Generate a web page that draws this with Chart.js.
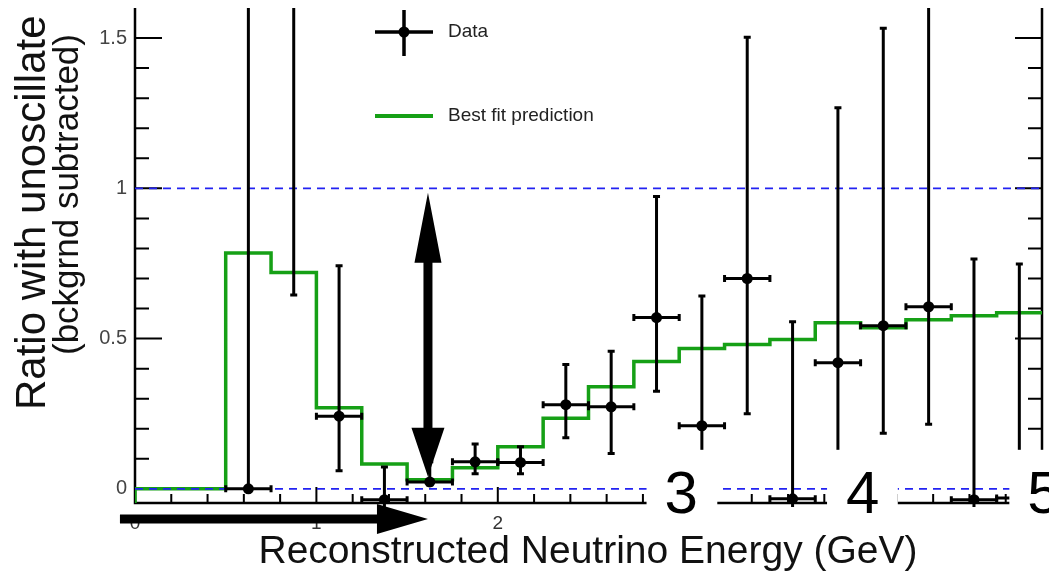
<!DOCTYPE html>
<html>
<head>
<meta charset="utf-8">
<script src="https://cdn.jsdelivr.net/npm/chart.js@4.4.0/dist/chart.umd.min.js"></script>
<style>
  html, body { margin: 0; padding: 0; background: #fff; }
  canvas { display: block; }
</style>
</head>
<body>
<canvas id="chart" width="1049" height="572"></canvas>
<script>
// histogram bin edges (GeV) and best fit prediction per bin
const binEdges = [0, 0.25, 0.5, 0.75, 1, 1.25, 1.5, 1.75, 2, 2.25, 2.5, 2.75, 3, 3.25, 3.5, 3.75, 4, 4.25, 4.5, 4.75, 5];
const bestFit = [0, 0, 0.785, 0.72, 0.27, 0.083, 0.03, 0.07, 0.14, 0.235, 0.34, 0.424, 0.467, 0.48, 0.497, 0.553, 0.536, 0.563, 0.576, 0.586];

// data points: bin centre, ratio, upper and lower end of the error bar
const dataEnergy = [0.625, 0.875, 1.125, 1.375, 1.625, 1.875, 2.125, 2.375, 2.625, 2.875, 3.125, 3.375, 3.625, 3.875, 4.125, 4.375, 4.625, 4.875];
const dataRatio = [0, 1.8, 0.242, -0.036, 0.023, 0.09, 0.088, 0.28, 0.273, 0.57, 0.21, 0.70, -0.033, 0.42, 0.543, 0.606, -0.036, -0.03];
const dataUpper = [2.5, 2.5, 0.742, 0.073, 0.09, 0.149, 0.14, 0.414, 0.458, 0.973, 0.642, 1.503, 0.556, 1.268, 1.533, 2.5, 0.765, 0.748];
const dataLower = [0, 0.645, 0.06, -0.3, 0.013, 0.05, 0.05, 0.17, 0.118, 0.325, 0, 0.25, -0.3, 0, 0.185, 0.215, -0.3, -0.3];
const binHalf = 0.125;

const refLines = [0, 1];
const yTickValues = [0, 0.5, 1, 1.5];
const xTickValues = [0, 1, 2];
// the slide pastes big numbers over the axis for 3, 4, 5
const bigLabelValues = [3, 4, 5];
const bigLabels = ['3', '4', '5'];
const coverRanges = [[2.82, 3.21], [3.815, 4.205], [4.82, 5.2]];

const X_MIN = 0, X_MAX = 5, Y_MIN = -0.047, Y_MAX = 1.6;
const FONT = "'Liberation Sans', Arial, sans-serif";

const stepData = [{ x: X_MIN, y: Y_MIN }];
bestFit.forEach((v, i) => stepData.push({ x: binEdges[i], y: v }));
stepData.push({ x: binEdges[binEdges.length - 1], y: bestFit[bestFit.length - 1] });

function text(ctx, str, x, y, size, opts = {}) {
  ctx.save();
  ctx.translate(x, y);
  if (opts.rotate) ctx.rotate(opts.rotate);
  ctx.font = size + 'px ' + FONT;
  ctx.fillStyle = opts.color || '#000';
  ctx.textAlign = opts.align || 'left';
  ctx.textBaseline = opts.baseline || 'alphabetic';
  ctx.fillText(str, 0, 0);
  ctx.restore();
}

function noPadding(s) {
  s.paddingTop = 0;
  s.paddingBottom = 0;
  s.paddingLeft = 0;
  s.paddingRight = 0;
}

const frame = {
  id: 'frame',
  beforeDatasetsDraw(chart) {
    const { ctx, chartArea: a, scales: { x, y } } = chart;
    ctx.save();
    ctx.strokeStyle = '#000';
    ctx.lineWidth = 2.5;
    ctx.beginPath();
    ctx.moveTo(a.left, a.top);
    ctx.lineTo(a.left, a.bottom);
    ctx.lineTo(a.right, a.bottom);
    ctx.lineTo(a.right, a.top);
    ctx.stroke();
    ctx.lineWidth = 2;
    ctx.beginPath();
    for (let i = 0; i <= 15; i++) {
      const yy = y.getPixelForValue(i / 10);
      const len = i % 5 === 0 ? 27 : 14;
      ctx.moveTo(a.left, yy); ctx.lineTo(a.left + len, yy);
      ctx.moveTo(a.right, yy); ctx.lineTo(a.right - len, yy);
    }
    for (let i = 0; i <= 25; i++) {
      const xx = x.getPixelForValue(i / 5);
      const len = i % 5 === 0 ? 16 : 9;
      ctx.moveTo(xx, a.bottom); ctx.lineTo(xx, a.bottom - len);
    }
    ctx.stroke();
    ctx.restore();
  }
};

const overlay = {
  id: 'overlay',
  afterDatasetsDraw(chart) {
    const { ctx, chartArea: a, scales: { x, y } } = chart;

    // error bars
    ctx.save();
    ctx.beginPath();
    ctx.rect(a.left, a.top, a.right - a.left, a.bottom - a.top + 4);
    ctx.clip();
    ctx.strokeStyle = '#000';
    ctx.lineWidth = 3;
    dataEnergy.forEach((e, i) => {
      const cx = x.getPixelForValue(e);
      const cy = y.getPixelForValue(dataRatio[i]);
      const x0 = x.getPixelForValue(e - binHalf);
      const x1 = x.getPixelForValue(e + binHalf);
      const yHi = y.getPixelForValue(dataUpper[i]);
      const yLo = y.getPixelForValue(dataLower[i]);
      ctx.beginPath();
      ctx.moveTo(x0, cy); ctx.lineTo(x1, cy);
      ctx.moveTo(cx, yHi); ctx.lineTo(cx, yLo);
      ctx.moveTo(x0, cy - 3.5); ctx.lineTo(x0, cy + 3.5);
      ctx.moveTo(x1, cy - 3.5); ctx.lineTo(x1, cy + 3.5);
      ctx.moveTo(cx - 3.5, yHi); ctx.lineTo(cx + 3.5, yHi);
      ctx.moveTo(cx - 3.5, yLo); ctx.lineTo(cx + 3.5, yLo);
      ctx.stroke();
    });
    ctx.restore();

    // white patches with big numbers
    ctx.save();
    ctx.fillStyle = '#fff';
    const top = y.getPixelForValue(0.13), bot = y.getPixelForValue(-0.14);
    coverRanges.forEach(r => {
      const l = x.getPixelForValue(r[0]), rr = x.getPixelForValue(r[1]);
      ctx.fillRect(l, top, rr - l, bot - top);
    });
    ctx.restore();
    bigLabelValues.forEach((v, i) => {
      text(ctx, bigLabels[i], x.getPixelForValue(v) + 2, y.getPixelForValue(-0.08), 60, { align: 'center' });
    });

    // arrows
    ctx.save();
    ctx.fillStyle = '#000';
    const ax = x.getPixelForValue(1.615);
    const aTop = y.getPixelForValue(0.985), aBot = y.getPixelForValue(0.04);
    ctx.beginPath();
    ctx.moveTo(ax, aTop);
    ctx.lineTo(ax + 13.5, aTop + 70);
    ctx.lineTo(ax + 4.5, aTop + 70);
    ctx.lineTo(ax + 4.5, aBot - 49);
    ctx.lineTo(ax + 16.5, aBot - 49);
    ctx.lineTo(ax, aBot);
    ctx.lineTo(ax - 16.5, aBot - 49);
    ctx.lineTo(ax - 4.5, aBot - 49);
    ctx.lineTo(ax - 4.5, aTop + 70);
    ctx.lineTo(ax - 13.5, aTop + 70);
    ctx.closePath();
    ctx.fill();
    const hy = y.getPixelForValue(-0.1);
    const hx0 = x.getPixelForValue(-0.083), hx1 = x.getPixelForValue(1.615);
    ctx.beginPath();
    ctx.moveTo(hx0, hy - 4.5);
    ctx.lineTo(hx1 - 51, hy - 4.5);
    ctx.lineTo(hx1 - 51, hy - 15);
    ctx.lineTo(hx1, hy);
    ctx.lineTo(hx1 - 51, hy + 15);
    ctx.lineTo(hx1 - 51, hy + 4.5);
    ctx.lineTo(hx0, hy + 4.5);
    ctx.closePath();
    ctx.fill();
    ctx.restore();

    // legend
    ctx.save();
    ctx.strokeStyle = '#000';
    ctx.lineWidth = 3.5;
    ctx.beginPath();
    ctx.moveTo(375, 32); ctx.lineTo(433, 32);
    ctx.moveTo(404, 10); ctx.lineTo(404, 56);
    ctx.stroke();
    ctx.fillStyle = '#000';
    ctx.beginPath();
    ctx.arc(404, 32, 5.5, 0, Math.PI * 2);
    ctx.fill();
    ctx.strokeStyle = '#16a016';
    ctx.lineWidth = 4;
    ctx.beginPath();
    ctx.moveTo(375, 116); ctx.lineTo(433, 116);
    ctx.stroke();
    ctx.restore();
    text(ctx, chart.data.datasets[0].label, 448, 32, 19, { baseline: 'middle', color: '#222' });
    text(ctx, chart.data.datasets[3].label, 448, 116, 19, { baseline: 'middle', color: '#222' });
  },
  afterDraw(chart) {
    const { ctx } = chart;
    text(ctx, 'Reconstructed Neutrino Energy (GeV)', 588, 563, 39, { align: 'center', color: '#111' });
    text(ctx, 'Ratio with unoscillate', 45, 410, 42, { rotate: -Math.PI / 2, color: '#111' });
    text(ctx, '(bckgrnd subtracted)', 78, 355, 35, { rotate: -Math.PI / 2, color: '#111' });
  }
};

new Chart(document.getElementById('chart'), {
  type: 'scatter',
  data: {
    datasets: [
      {
        label: 'Data',
        data: dataEnergy.map((e, i) => ({ x: e, y: dataRatio[i] })),
        pointRadius: 5.5,
        pointBackgroundColor: '#000',
        pointBorderWidth: 0,
        order: 1
      },
      ...refLines.map(v => ({
        type: 'line',
        label: 'ref ' + v,
        data: [{ x: X_MIN, y: v }, { x: X_MAX, y: v }],
        borderColor: '#2222f2',
        borderWidth: 1.8,
        borderDash: [8, 6],
        pointRadius: 0,
        order: 2
      })),
      {
        type: 'line',
        label: 'Best fit prediction',
        data: stepData,
        stepped: true,
        borderColor: '#16a016',
        borderWidth: 3.5,
        pointRadius: 0,
        fill: false,
        order: 3
      }
    ]
  },
  options: {
    responsive: false,
    animation: false,
    devicePixelRatio: 1,
    layout: { padding: { left: 0, right: 7, top: 8, bottom: 0 } },
    plugins: { legend: { display: false }, tooltip: { enabled: false } },
    scales: {
      x: {
        type: 'linear',
        min: X_MIN,
        max: X_MAX,
        grid: { display: false, drawTicks: false },
        border: { display: false },
        afterBuildTicks: s => { s.ticks = xTickValues.map(v => ({ value: v })); },
        afterFit: s => { s.height = 69; noPadding(s); },
        ticks: { padding: 9, color: '#333', font: { size: 19, family: FONT }, callback: v => String(v) }
      },
      y: {
        min: Y_MIN,
        max: Y_MAX,
        grid: { display: false, drawTicks: false },
        border: { display: false },
        afterBuildTicks: s => { s.ticks = yTickValues.map(v => ({ value: v })); },
        afterFit: s => { s.width = 135; noPadding(s); },
        ticks: { padding: 8, color: '#444', font: { size: 20, family: FONT }, callback: v => String(v) }
      }
    }
  },
  plugins: [frame, overlay]
});
</script>
</body>
</html>
